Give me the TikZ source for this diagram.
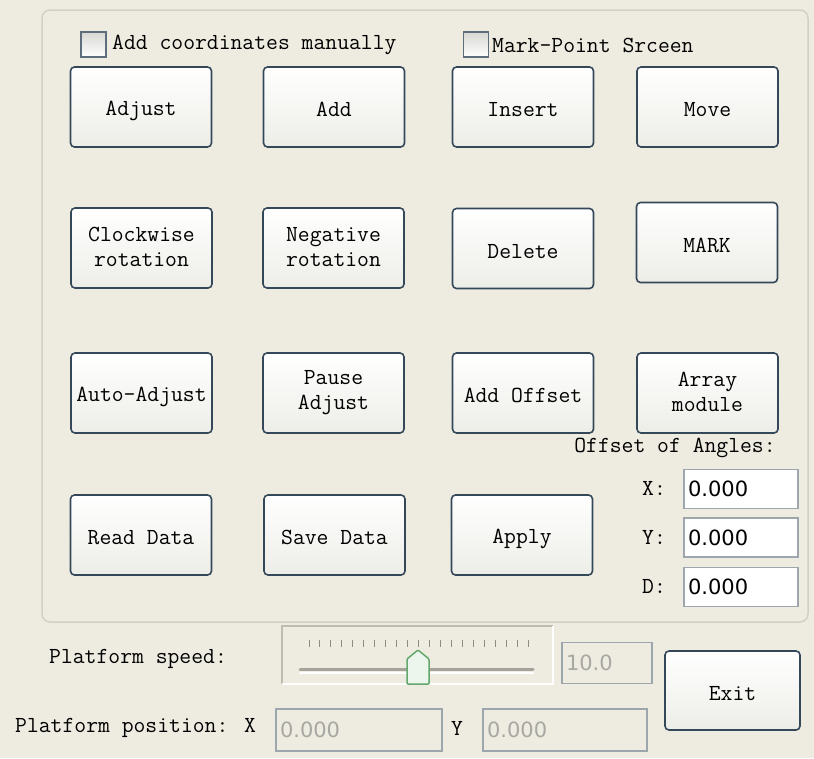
\documentclass[tikz,border=0pt]{standalone}
\usepackage{fontspec}
\usepackage{xcolor}
\usepackage{tikz}
\newfontfamily\valfont{DejaVu Sans}
\newcommand\btnstrut{\rule[-3pt]{0pt}{25pt}}
\definecolor{winbg}{HTML}{EEECE1}
\definecolor{panelline}{HTML}{D3D1C3}
\definecolor{btnline}{HTML}{34485A}
\definecolor{btnlow}{HTML}{EDEDE8}
\definecolor{fieldline}{HTML}{9EA6AD}
\definecolor{dimtext}{HTML}{A8A8A2}
\definecolor{tickgray}{HTML}{8C8C82}
\definecolor{thumbline}{HTML}{62A86C}
\definecolor{thumbfill}{HTML}{ECF6EC}

\begin{document}
\begin{tikzpicture}[x=1pt, y=-1pt,
  every node/.style={font=\fontsize{23}{25}\selectfont\ttfamily},
  btn/.style={draw=btnline, line width=1.6pt, rounded corners=4pt,
    top color=white, bottom color=btnlow, minimum width=141pt,
    minimum height=80pt, align=center, inner sep=0pt,
    execute at begin node=\btnstrut, execute at end node=\btnstrut},
  chk/.style={draw=btnline!80, line width=1.4pt, top color=btnlow!80!gray, bottom color=white,
    minimum size=25pt, inner sep=0pt},
  field/.style={draw=fieldline, fill=white, line width=1.5pt, minimum height=39pt,
    text width=#1, align=left, inner xsep=4pt, inner ysep=0pt,
    font=\fontsize{21}{23}\selectfont\valfont},
  dimfield/.style={field=#1, fill=winbg, text=dimtext}]
\useasboundingbox (0,0) rectangle (814,758);
\fill[winbg] (0,0) rectangle (814,758);
\draw[panelline, line width=1.5pt, rounded corners=8pt] (42,10) rectangle (808,622);

\node[chk] (manual) at (93.5,44.5) {};
\node[anchor=west, inner sep=0pt] (manualtxt) at (112,45) {Add coordinates manually};
\node[chk] (screen) at (476,44.5) {};
\node[anchor=west, inner sep=0pt] (screentxt) at (492,45) {Mark-Point Srceen};

\node[btn] (adjust) at (141,107) {Adjust};
\node[btn] (add) at (334,107) {Add};
\node[btn] (insert) at (523,107) {Insert};
\node[btn] (move) at (707.5,107) {Move};

\node[btn] (cw) at (141.5,248) {Clockwise\\rotation};
\node[btn] (neg) at (333.5,248) {Negative\\rotation};
\node[btn] (delete) at (523,248.5) {Delete};
\node[btn] (mark) at (707,242.5) {MARK};

\node[btn] (auto) at (141.5,393) {Auto-Adjust};
\node[btn] (pause) at (333.5,393) {Pause\\Adjust};
\node[btn] (addoff) at (523,393) {Add Offset};
\node[btn] (array) at (707.5,393) {Array\\module};

\node[btn] (read) at (141,535) {Read Data};
\node[btn] (save) at (334.5,535) {Save Data};
\node[btn] (apply) at (522,535) {Apply};

\node (angles) at (675,448) {Offset of Angles:};
\node (xlab) at (654,488) {X:};
\node[field=106pt] (xval) at (741,489) {0.000};
\node (ylab) at (654,537) {Y:};
\node[field=106pt] (yval) at (741,537.5) {0.000};
\node (dlab) at (654,586) {D:};
\node[field=106pt] (dval) at (741,587) {0.000};

\node[anchor=west, inner sep=0pt] (speed) at (49,659) {Platform speed:};
\draw[panelline!90!black, line width=1.5pt] (282,684) -- (282,626) -- (553,626);
\draw[white, line width=1.5pt] (553,626) -- (553,684) -- (282,684);
\foreach \i in {0,...,20}
  \draw[tickgray, line width=1pt] (309+\i*10.95,640) -- ++(0,7);
\draw[tickgray!80, line width=3pt, line cap=round] (300,669) -- (533,669);
\draw[white, line width=2pt, line cap=round] (300,672.5) -- (533,672.5);
\draw[thumbline, fill=thumbfill, line width=1.5pt, rounded corners=1pt]
  (407,659) -- (418,650) -- (429,659) -- (429,684) -- (407,684) -- cycle;
\node[dimfield=82pt, minimum height=41pt] (speedval) at (607,663) {10.0};

\node[btn, minimum width=135pt, minimum height=79pt] (exit) at (732.5,690.5) {Exit};

\node[anchor=west, inner sep=0pt] (position) at (15,728) {Platform position: X};
\node[dimfield=158pt, minimum height=42pt] (posx) at (359,730) {0.000};
\node (posylab) at (457,728) {Y};
\node[dimfield=156pt, minimum height=42pt] (posy) at (565,730) {0.000};
\end{tikzpicture}
\end{document}
